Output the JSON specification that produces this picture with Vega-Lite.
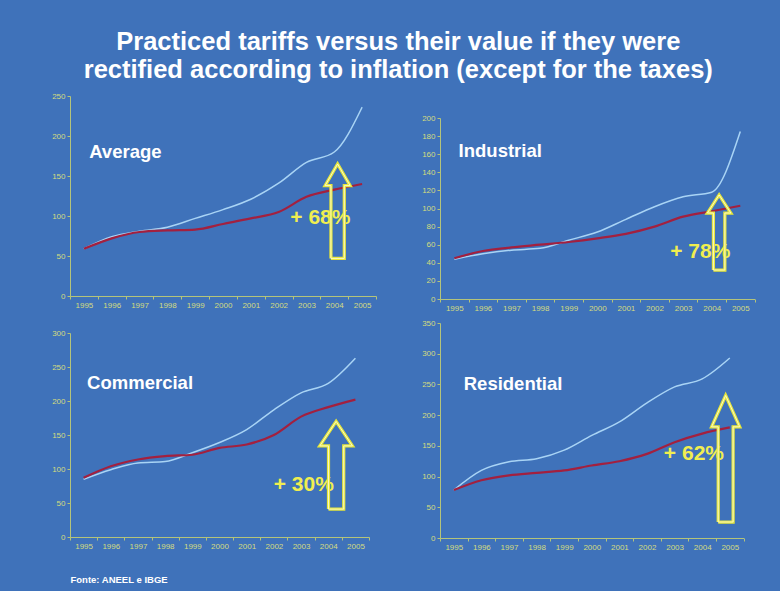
{
  "$schema": "https://vega.github.io/schema/vega-lite/v6.json",
  "background": "#3f72ba",
  "padding": {"left": 51, "top": 29, "right": 11, "bottom": 10},
  "title": {
    "text": ["Practiced tariffs versus their value if they were", "rectified according to inflation (except for the taxes)"],
    "font": "Liberation Sans",
    "fontSize": 25.5,
    "fontWeight": "bold",
    "color": "#ffffff",
    "lineHeight": 28,
    "anchor": "middle",
    "offset": 9,
    "dx": -12
  },
  "config": {
    "view": {"stroke": null},
    "axis": {
      "domainColor": "#b4c47a",
      "tickColor": "#b4c47a",
      "labelColor": "#d4dc80",
      "labelFont": "Liberation Sans",
      "labelFontSize": 8,
      "tickSize": 3,
      "labelPadding": 2,
      "labelOverlap": false,
      "labelFlush": false,
      "labelBound": false,
      "grid": false,
      "title": null
    }
  },
  "datasets": {
    "series": [
      {"panel": "Average", "series": "Rectified", "year": 1995, "value": 59},
      {"panel": "Average", "series": "Rectified", "year": 1996, "value": 74},
      {"panel": "Average", "series": "Rectified", "year": 1997, "value": 81},
      {"panel": "Average", "series": "Rectified", "year": 1998, "value": 86},
      {"panel": "Average", "series": "Rectified", "year": 1999, "value": 97},
      {"panel": "Average", "series": "Rectified", "year": 2000, "value": 108},
      {"panel": "Average", "series": "Rectified", "year": 2001, "value": 121},
      {"panel": "Average", "series": "Rectified", "year": 2002, "value": 141},
      {"panel": "Average", "series": "Rectified", "year": 2003, "value": 167},
      {"panel": "Average", "series": "Rectified", "year": 2004, "value": 180},
      {"panel": "Average", "series": "Rectified", "year": 2005, "value": 236},
      {"panel": "Average", "series": "Practiced", "year": 1995, "value": 59},
      {"panel": "Average", "series": "Practiced", "year": 1996, "value": 72},
      {"panel": "Average", "series": "Practiced", "year": 1997, "value": 80},
      {"panel": "Average", "series": "Practiced", "year": 1998, "value": 82},
      {"panel": "Average", "series": "Practiced", "year": 1999, "value": 83},
      {"panel": "Average", "series": "Practiced", "year": 2000, "value": 90},
      {"panel": "Average", "series": "Practiced", "year": 2001, "value": 97},
      {"panel": "Average", "series": "Practiced", "year": 2002, "value": 105},
      {"panel": "Average", "series": "Practiced", "year": 2003, "value": 124},
      {"panel": "Average", "series": "Practiced", "year": 2004, "value": 133},
      {"panel": "Average", "series": "Practiced", "year": 2005, "value": 140},
      {"panel": "Industrial", "series": "Rectified", "year": 1995, "value": 44},
      {"panel": "Industrial", "series": "Rectified", "year": 1996, "value": 50},
      {"panel": "Industrial", "series": "Rectified", "year": 1997, "value": 54},
      {"panel": "Industrial", "series": "Rectified", "year": 1998, "value": 56},
      {"panel": "Industrial", "series": "Rectified", "year": 1999, "value": 65},
      {"panel": "Industrial", "series": "Rectified", "year": 2000, "value": 74},
      {"panel": "Industrial", "series": "Rectified", "year": 2001, "value": 88},
      {"panel": "Industrial", "series": "Rectified", "year": 2002, "value": 102},
      {"panel": "Industrial", "series": "Rectified", "year": 2003, "value": 113},
      {"panel": "Industrial", "series": "Rectified", "year": 2004, "value": 118},
      {"panel": "Industrial", "series": "Rectified", "year": 2005, "value": 185},
      {"panel": "Industrial", "series": "Practiced", "year": 1995, "value": 45},
      {"panel": "Industrial", "series": "Practiced", "year": 1996, "value": 53},
      {"panel": "Industrial", "series": "Practiced", "year": 1997, "value": 57},
      {"panel": "Industrial", "series": "Practiced", "year": 1998, "value": 60},
      {"panel": "Industrial", "series": "Practiced", "year": 1999, "value": 63},
      {"panel": "Industrial", "series": "Practiced", "year": 2000, "value": 67},
      {"panel": "Industrial", "series": "Practiced", "year": 2001, "value": 72},
      {"panel": "Industrial", "series": "Practiced", "year": 2002, "value": 80},
      {"panel": "Industrial", "series": "Practiced", "year": 2003, "value": 91},
      {"panel": "Industrial", "series": "Practiced", "year": 2004, "value": 97},
      {"panel": "Industrial", "series": "Practiced", "year": 2005, "value": 103},
      {"panel": "Commercial", "series": "Rectified", "year": 1995, "value": 85},
      {"panel": "Commercial", "series": "Rectified", "year": 1996, "value": 99},
      {"panel": "Commercial", "series": "Rectified", "year": 1997, "value": 109},
      {"panel": "Commercial", "series": "Rectified", "year": 1998, "value": 111},
      {"panel": "Commercial", "series": "Rectified", "year": 1999, "value": 124},
      {"panel": "Commercial", "series": "Rectified", "year": 2000, "value": 139},
      {"panel": "Commercial", "series": "Rectified", "year": 2001, "value": 158},
      {"panel": "Commercial", "series": "Rectified", "year": 2002, "value": 187},
      {"panel": "Commercial", "series": "Rectified", "year": 2003, "value": 212},
      {"panel": "Commercial", "series": "Rectified", "year": 2004, "value": 226},
      {"panel": "Commercial", "series": "Rectified", "year": 2005, "value": 263},
      {"panel": "Commercial", "series": "Practiced", "year": 1995, "value": 87},
      {"panel": "Commercial", "series": "Practiced", "year": 1996, "value": 104},
      {"panel": "Commercial", "series": "Practiced", "year": 1997, "value": 114},
      {"panel": "Commercial", "series": "Practiced", "year": 1998, "value": 119},
      {"panel": "Commercial", "series": "Practiced", "year": 1999, "value": 121},
      {"panel": "Commercial", "series": "Practiced", "year": 2000, "value": 131},
      {"panel": "Commercial", "series": "Practiced", "year": 2001, "value": 136},
      {"panel": "Commercial", "series": "Practiced", "year": 2002, "value": 150},
      {"panel": "Commercial", "series": "Practiced", "year": 2003, "value": 177},
      {"panel": "Commercial", "series": "Practiced", "year": 2004, "value": 191},
      {"panel": "Commercial", "series": "Practiced", "year": 2005, "value": 202},
      {"panel": "Residential", "series": "Rectified", "year": 1995, "value": 78},
      {"panel": "Residential", "series": "Rectified", "year": 1996, "value": 110},
      {"panel": "Residential", "series": "Rectified", "year": 1997, "value": 124},
      {"panel": "Residential", "series": "Rectified", "year": 1998, "value": 129},
      {"panel": "Residential", "series": "Rectified", "year": 1999, "value": 143},
      {"panel": "Residential", "series": "Rectified", "year": 2000, "value": 167},
      {"panel": "Residential", "series": "Rectified", "year": 2001, "value": 189},
      {"panel": "Residential", "series": "Rectified", "year": 2002, "value": 220},
      {"panel": "Residential", "series": "Rectified", "year": 2003, "value": 246},
      {"panel": "Residential", "series": "Rectified", "year": 2004, "value": 259},
      {"panel": "Residential", "series": "Rectified", "year": 2005, "value": 293},
      {"panel": "Residential", "series": "Practiced", "year": 1995, "value": 78},
      {"panel": "Residential", "series": "Practiced", "year": 1996, "value": 94},
      {"panel": "Residential", "series": "Practiced", "year": 1997, "value": 102},
      {"panel": "Residential", "series": "Practiced", "year": 1998, "value": 106},
      {"panel": "Residential", "series": "Practiced", "year": 1999, "value": 110},
      {"panel": "Residential", "series": "Practiced", "year": 2000, "value": 118},
      {"panel": "Residential", "series": "Practiced", "year": 2001, "value": 125},
      {"panel": "Residential", "series": "Practiced", "year": 2002, "value": 137},
      {"panel": "Residential", "series": "Practiced", "year": 2003, "value": 156},
      {"panel": "Residential", "series": "Practiced", "year": 2004, "value": 170},
      {"panel": "Residential", "series": "Practiced", "year": 2005, "value": 180}
    ],
    "arrows": [
      {"panel": "Average", "ord": 1, "year": 2003.88, "value": 47},
      {"panel": "Average", "ord": 2, "year": 2003.88, "value": 138},
      {"panel": "Average", "ord": 3, "year": 2003.67, "value": 138},
      {"panel": "Average", "ord": 4, "year": 2004.12, "value": 165},
      {"panel": "Average", "ord": 5, "year": 2004.57, "value": 138},
      {"panel": "Average", "ord": 6, "year": 2004.36, "value": 138},
      {"panel": "Average", "ord": 7, "year": 2004.36, "value": 47},
      {"panel": "Average", "ord": 8, "year": 2003.88, "value": 47},
      {"panel": "Industrial", "ord": 1, "year": 2004.06, "value": 32},
      {"panel": "Industrial", "ord": 2, "year": 2004.06, "value": 95},
      {"panel": "Industrial", "ord": 3, "year": 2003.85, "value": 95},
      {"panel": "Industrial", "ord": 4, "year": 2004.26, "value": 115},
      {"panel": "Industrial", "ord": 5, "year": 2004.67, "value": 95},
      {"panel": "Industrial", "ord": 6, "year": 2004.46, "value": 95},
      {"panel": "Industrial", "ord": 7, "year": 2004.46, "value": 32},
      {"panel": "Industrial", "ord": 8, "year": 2004.06, "value": 32},
      {"panel": "Commercial", "ord": 1, "year": 2004.01, "value": 41},
      {"panel": "Commercial", "ord": 2, "year": 2004.01, "value": 134},
      {"panel": "Commercial", "ord": 3, "year": 2003.69, "value": 134},
      {"panel": "Commercial", "ord": 4, "year": 2004.29, "value": 170},
      {"panel": "Commercial", "ord": 5, "year": 2004.89, "value": 134},
      {"panel": "Commercial", "ord": 6, "year": 2004.57, "value": 134},
      {"panel": "Commercial", "ord": 7, "year": 2004.57, "value": 41},
      {"panel": "Commercial", "ord": 8, "year": 2004.01, "value": 41},
      {"panel": "Residential", "ord": 1, "year": 2004.58, "value": 26},
      {"panel": "Residential", "ord": 2, "year": 2004.58, "value": 181},
      {"panel": "Residential", "ord": 3, "year": 2004.34, "value": 181},
      {"panel": "Residential", "ord": 4, "year": 2004.85, "value": 232},
      {"panel": "Residential", "ord": 5, "year": 2005.36, "value": 181},
      {"panel": "Residential", "ord": 6, "year": 2005.12, "value": 181},
      {"panel": "Residential", "ord": 7, "year": 2005.12, "value": 26},
      {"panel": "Residential", "ord": 8, "year": 2004.58, "value": 26}
    ],
    "notes": [
      {"panel": "Average", "kind": "name", "year": 1995.19, "value": 180, "text": "Average"},
      {"panel": "Average", "kind": "pct", "year": 2003.5, "value": 97, "text": "+ 68%"},
      {"panel": "Industrial", "kind": "name", "year": 1995.15, "value": 163, "text": "Industrial"},
      {"panel": "Industrial", "kind": "pct", "year": 2003.6, "value": 52, "text": "+ 78%"},
      {"panel": "Commercial", "kind": "name", "year": 1995.13, "value": 226, "text": "Commercial"},
      {"panel": "Commercial", "kind": "pct", "year": 2003.1, "value": 77, "text": "+ 30%"},
      {"panel": "Residential", "kind": "name", "year": 1995.36, "value": 251, "text": "Residential"},
      {"panel": "Residential", "kind": "pct", "year": 2003.7, "value": 137, "text": "+ 62%"}
    ],
    "blank": [{"t": ""}]
  },
  "spacing": 31,
  "hconcat": [
    {
      "spacing": 20,
      "vconcat": [
        {
          "width": 306, "height": 200,
          "encoding": {
            "x": {"field": "year", "type": "quantitative", "scale": {"domain": [1994.5, 2005.5], "nice": false, "zero": false},
                  "axis": {"values": [1994.5, 1995.5, 1996.5, 1997.5, 1998.5, 1999.5, 2000.5, 2001.5, 2002.5, 2003.5, 2004.5, 2005.5], "labelExpr": "datum.value > 2005 ? '' : format(datum.value + 0.5, 'd')", "labelOffset": 13.9}},
            "y": {"field": "value", "type": "quantitative", "scale": {"domain": [0, 250], "nice": false},
                  "axis": {"values": [0, 50, 100, 150, 200, 250]}}
          },
          "layer": [
            {"data": {"name": "series"}, "transform": [{"filter": "datum.panel == 'Average' && datum.series == 'Rectified'"}],
             "mark": {"type": "line", "interpolate": "monotone", "stroke": "#a9d4f5", "strokeWidth": 1.5}},
            {"data": {"name": "series"}, "transform": [{"filter": "datum.panel == 'Average' && datum.series == 'Practiced'"}],
             "mark": {"type": "line", "interpolate": "monotone", "stroke": "#a3203f", "strokeWidth": 2.2}},
            {"data": {"name": "notes"}, "transform": [{"filter": "datum.panel == 'Average' && datum.kind == 'pct'"}],
             "mark": {"type": "text", "font": "Liberation Sans", "fontSize": 21, "fontWeight": "bold", "fill": "#f0ee50", "align": "center", "baseline": "middle"},
             "encoding": {"text": {"field": "text"}}},
            {"data": {"name": "arrows"}, "transform": [{"filter": "datum.panel == 'Average'"}],
             "mark": {"type": "line", "stroke": "#e6e63a", "strokeWidth": 3.2, "strokeJoin": "miter"},
             "encoding": {"order": {"field": "ord"}}},
            {"data": {"name": "arrows"}, "transform": [{"filter": "datum.panel == 'Average'"}],
             "mark": {"type": "line", "stroke": "#fbfbd8", "strokeWidth": 0.9, "strokeJoin": "miter"},
             "encoding": {"order": {"field": "ord"}}},
            {"data": {"name": "notes"}, "transform": [{"filter": "datum.panel == 'Average' && datum.kind == 'name'"}],
             "mark": {"type": "text", "font": "Liberation Sans", "fontSize": 18.5, "fontWeight": "bold", "fill": "#ffffff", "align": "left", "baseline": "middle"},
             "encoding": {"text": {"field": "text"}}}
          ]
        },
        {
          "width": 299, "height": 204,
          "encoding": {
            "x": {"field": "year", "type": "quantitative", "scale": {"domain": [1994.5, 2005.5], "nice": false, "zero": false},
                  "axis": {"values": [1994.5, 1995.5, 1996.5, 1997.5, 1998.5, 1999.5, 2000.5, 2001.5, 2002.5, 2003.5, 2004.5, 2005.5], "labelExpr": "datum.value > 2005 ? '' : format(datum.value + 0.5, 'd')", "labelOffset": 13.6,
                           "title": "Fonte: ANEEL e IBGE", "titleColor": "#ffffff", "titleFont": "Liberation Sans", "titleFontSize": 9.5, "titleFontWeight": "bold", "titleAnchor": "start", "titleAlign": "left", "titlePadding": 24}},
            "y": {"field": "value", "type": "quantitative", "scale": {"domain": [0, 300], "nice": false},
                  "axis": {"values": [0, 50, 100, 150, 200, 250, 300]}}
          },
          "layer": [
            {"data": {"name": "series"}, "transform": [{"filter": "datum.panel == 'Commercial' && datum.series == 'Rectified'"}],
             "mark": {"type": "line", "interpolate": "monotone", "stroke": "#a9d4f5", "strokeWidth": 1.5}},
            {"data": {"name": "series"}, "transform": [{"filter": "datum.panel == 'Commercial' && datum.series == 'Practiced'"}],
             "mark": {"type": "line", "interpolate": "monotone", "stroke": "#a3203f", "strokeWidth": 2.2}},
            {"data": {"name": "notes"}, "transform": [{"filter": "datum.panel == 'Commercial' && datum.kind == 'pct'"}],
             "mark": {"type": "text", "font": "Liberation Sans", "fontSize": 21, "fontWeight": "bold", "fill": "#f0ee50", "align": "center", "baseline": "middle"},
             "encoding": {"text": {"field": "text"}}},
            {"data": {"name": "arrows"}, "transform": [{"filter": "datum.panel == 'Commercial'"}],
             "mark": {"type": "line", "stroke": "#e6e63a", "strokeWidth": 3.2, "strokeJoin": "miter"},
             "encoding": {"order": {"field": "ord"}}},
            {"data": {"name": "arrows"}, "transform": [{"filter": "datum.panel == 'Commercial'"}],
             "mark": {"type": "line", "stroke": "#fbfbd8", "strokeWidth": 0.9, "strokeJoin": "miter"},
             "encoding": {"order": {"field": "ord"}}},
            {"data": {"name": "notes"}, "transform": [{"filter": "datum.panel == 'Commercial' && datum.kind == 'name'"}],
             "mark": {"type": "text", "font": "Liberation Sans", "fontSize": 18.5, "fontWeight": "bold", "fill": "#ffffff", "align": "left", "baseline": "middle"},
             "encoding": {"text": {"field": "text"}}}
          ]
        }
      ]
    },
    {
      "spacing": 7,
      "vconcat": [
        {
          "width": 10, "height": 10.4,
          "data": {"name": "blank"},
          "mark": {"type": "text"},
          "encoding": {"text": {"field": "t"}}
        },
        {
          "width": 314.6, "height": 181,
          "encoding": {
            "x": {"field": "year", "type": "quantitative", "scale": {"domain": [1994.5, 2005.5], "nice": false, "zero": false},
                  "axis": {"values": [1994.5, 1995.5, 1996.5, 1997.5, 1998.5, 1999.5, 2000.5, 2001.5, 2002.5, 2003.5, 2004.5, 2005.5], "labelExpr": "datum.value > 2005 ? '' : format(datum.value + 0.5, 'd')", "labelOffset": 14.3}},
            "y": {"field": "value", "type": "quantitative", "scale": {"domain": [0, 200], "nice": false},
                  "axis": {"values": [0, 20, 40, 60, 80, 100, 120, 140, 160, 180, 200]}}
          },
          "layer": [
            {"data": {"name": "series"}, "transform": [{"filter": "datum.panel == 'Industrial' && datum.series == 'Rectified'"}],
             "mark": {"type": "line", "interpolate": "monotone", "stroke": "#a9d4f5", "strokeWidth": 1.5}},
            {"data": {"name": "series"}, "transform": [{"filter": "datum.panel == 'Industrial' && datum.series == 'Practiced'"}],
             "mark": {"type": "line", "interpolate": "monotone", "stroke": "#a3203f", "strokeWidth": 2.2}},
            {"data": {"name": "notes"}, "transform": [{"filter": "datum.panel == 'Industrial' && datum.kind == 'pct'"}],
             "mark": {"type": "text", "font": "Liberation Sans", "fontSize": 21, "fontWeight": "bold", "fill": "#f0ee50", "align": "center", "baseline": "middle"},
             "encoding": {"text": {"field": "text"}}},
            {"data": {"name": "arrows"}, "transform": [{"filter": "datum.panel == 'Industrial'"}],
             "mark": {"type": "line", "stroke": "#e6e63a", "strokeWidth": 3.2, "strokeJoin": "miter"},
             "encoding": {"order": {"field": "ord"}}},
            {"data": {"name": "arrows"}, "transform": [{"filter": "datum.panel == 'Industrial'"}],
             "mark": {"type": "line", "stroke": "#fbfbd8", "strokeWidth": 0.9, "strokeJoin": "miter"},
             "encoding": {"order": {"field": "ord"}}},
            {"data": {"name": "notes"}, "transform": [{"filter": "datum.panel == 'Industrial' && datum.kind == 'name'"}],
             "mark": {"type": "text", "font": "Liberation Sans", "fontSize": 18.5, "fontWeight": "bold", "fill": "#ffffff", "align": "left", "baseline": "middle"},
             "encoding": {"text": {"field": "text"}}}
          ]
        },
        {
          "width": 303.6, "height": 215,
          "encoding": {
            "x": {"field": "year", "type": "quantitative", "scale": {"domain": [1994.5, 2005.5], "nice": false, "zero": false},
                  "axis": {"values": [1994.5, 1995.5, 1996.5, 1997.5, 1998.5, 1999.5, 2000.5, 2001.5, 2002.5, 2003.5, 2004.5, 2005.5], "labelExpr": "datum.value > 2005 ? '' : format(datum.value + 0.5, 'd')", "labelOffset": 13.8}},
            "y": {"field": "value", "type": "quantitative", "scale": {"domain": [0, 350], "nice": false},
                  "axis": {"values": [0, 50, 100, 150, 200, 250, 300, 350]}}
          },
          "layer": [
            {"data": {"name": "series"}, "transform": [{"filter": "datum.panel == 'Residential' && datum.series == 'Rectified'"}],
             "mark": {"type": "line", "interpolate": "monotone", "stroke": "#a9d4f5", "strokeWidth": 1.5}},
            {"data": {"name": "series"}, "transform": [{"filter": "datum.panel == 'Residential' && datum.series == 'Practiced'"}],
             "mark": {"type": "line", "interpolate": "monotone", "stroke": "#a3203f", "strokeWidth": 2.2}},
            {"data": {"name": "notes"}, "transform": [{"filter": "datum.panel == 'Residential' && datum.kind == 'pct'"}],
             "mark": {"type": "text", "font": "Liberation Sans", "fontSize": 21, "fontWeight": "bold", "fill": "#f0ee50", "align": "center", "baseline": "middle"},
             "encoding": {"text": {"field": "text"}}},
            {"data": {"name": "arrows"}, "transform": [{"filter": "datum.panel == 'Residential'"}],
             "mark": {"type": "line", "stroke": "#e6e63a", "strokeWidth": 3.2, "strokeJoin": "miter"},
             "encoding": {"order": {"field": "ord"}}},
            {"data": {"name": "arrows"}, "transform": [{"filter": "datum.panel == 'Residential'"}],
             "mark": {"type": "line", "stroke": "#fbfbd8", "strokeWidth": 0.9, "strokeJoin": "miter"},
             "encoding": {"order": {"field": "ord"}}},
            {"data": {"name": "notes"}, "transform": [{"filter": "datum.panel == 'Residential' && datum.kind == 'name'"}],
             "mark": {"type": "text", "font": "Liberation Sans", "fontSize": 18.5, "fontWeight": "bold", "fill": "#ffffff", "align": "left", "baseline": "middle"},
             "encoding": {"text": {"field": "text"}}}
          ]
        }
      ]
    }
  ]
}
